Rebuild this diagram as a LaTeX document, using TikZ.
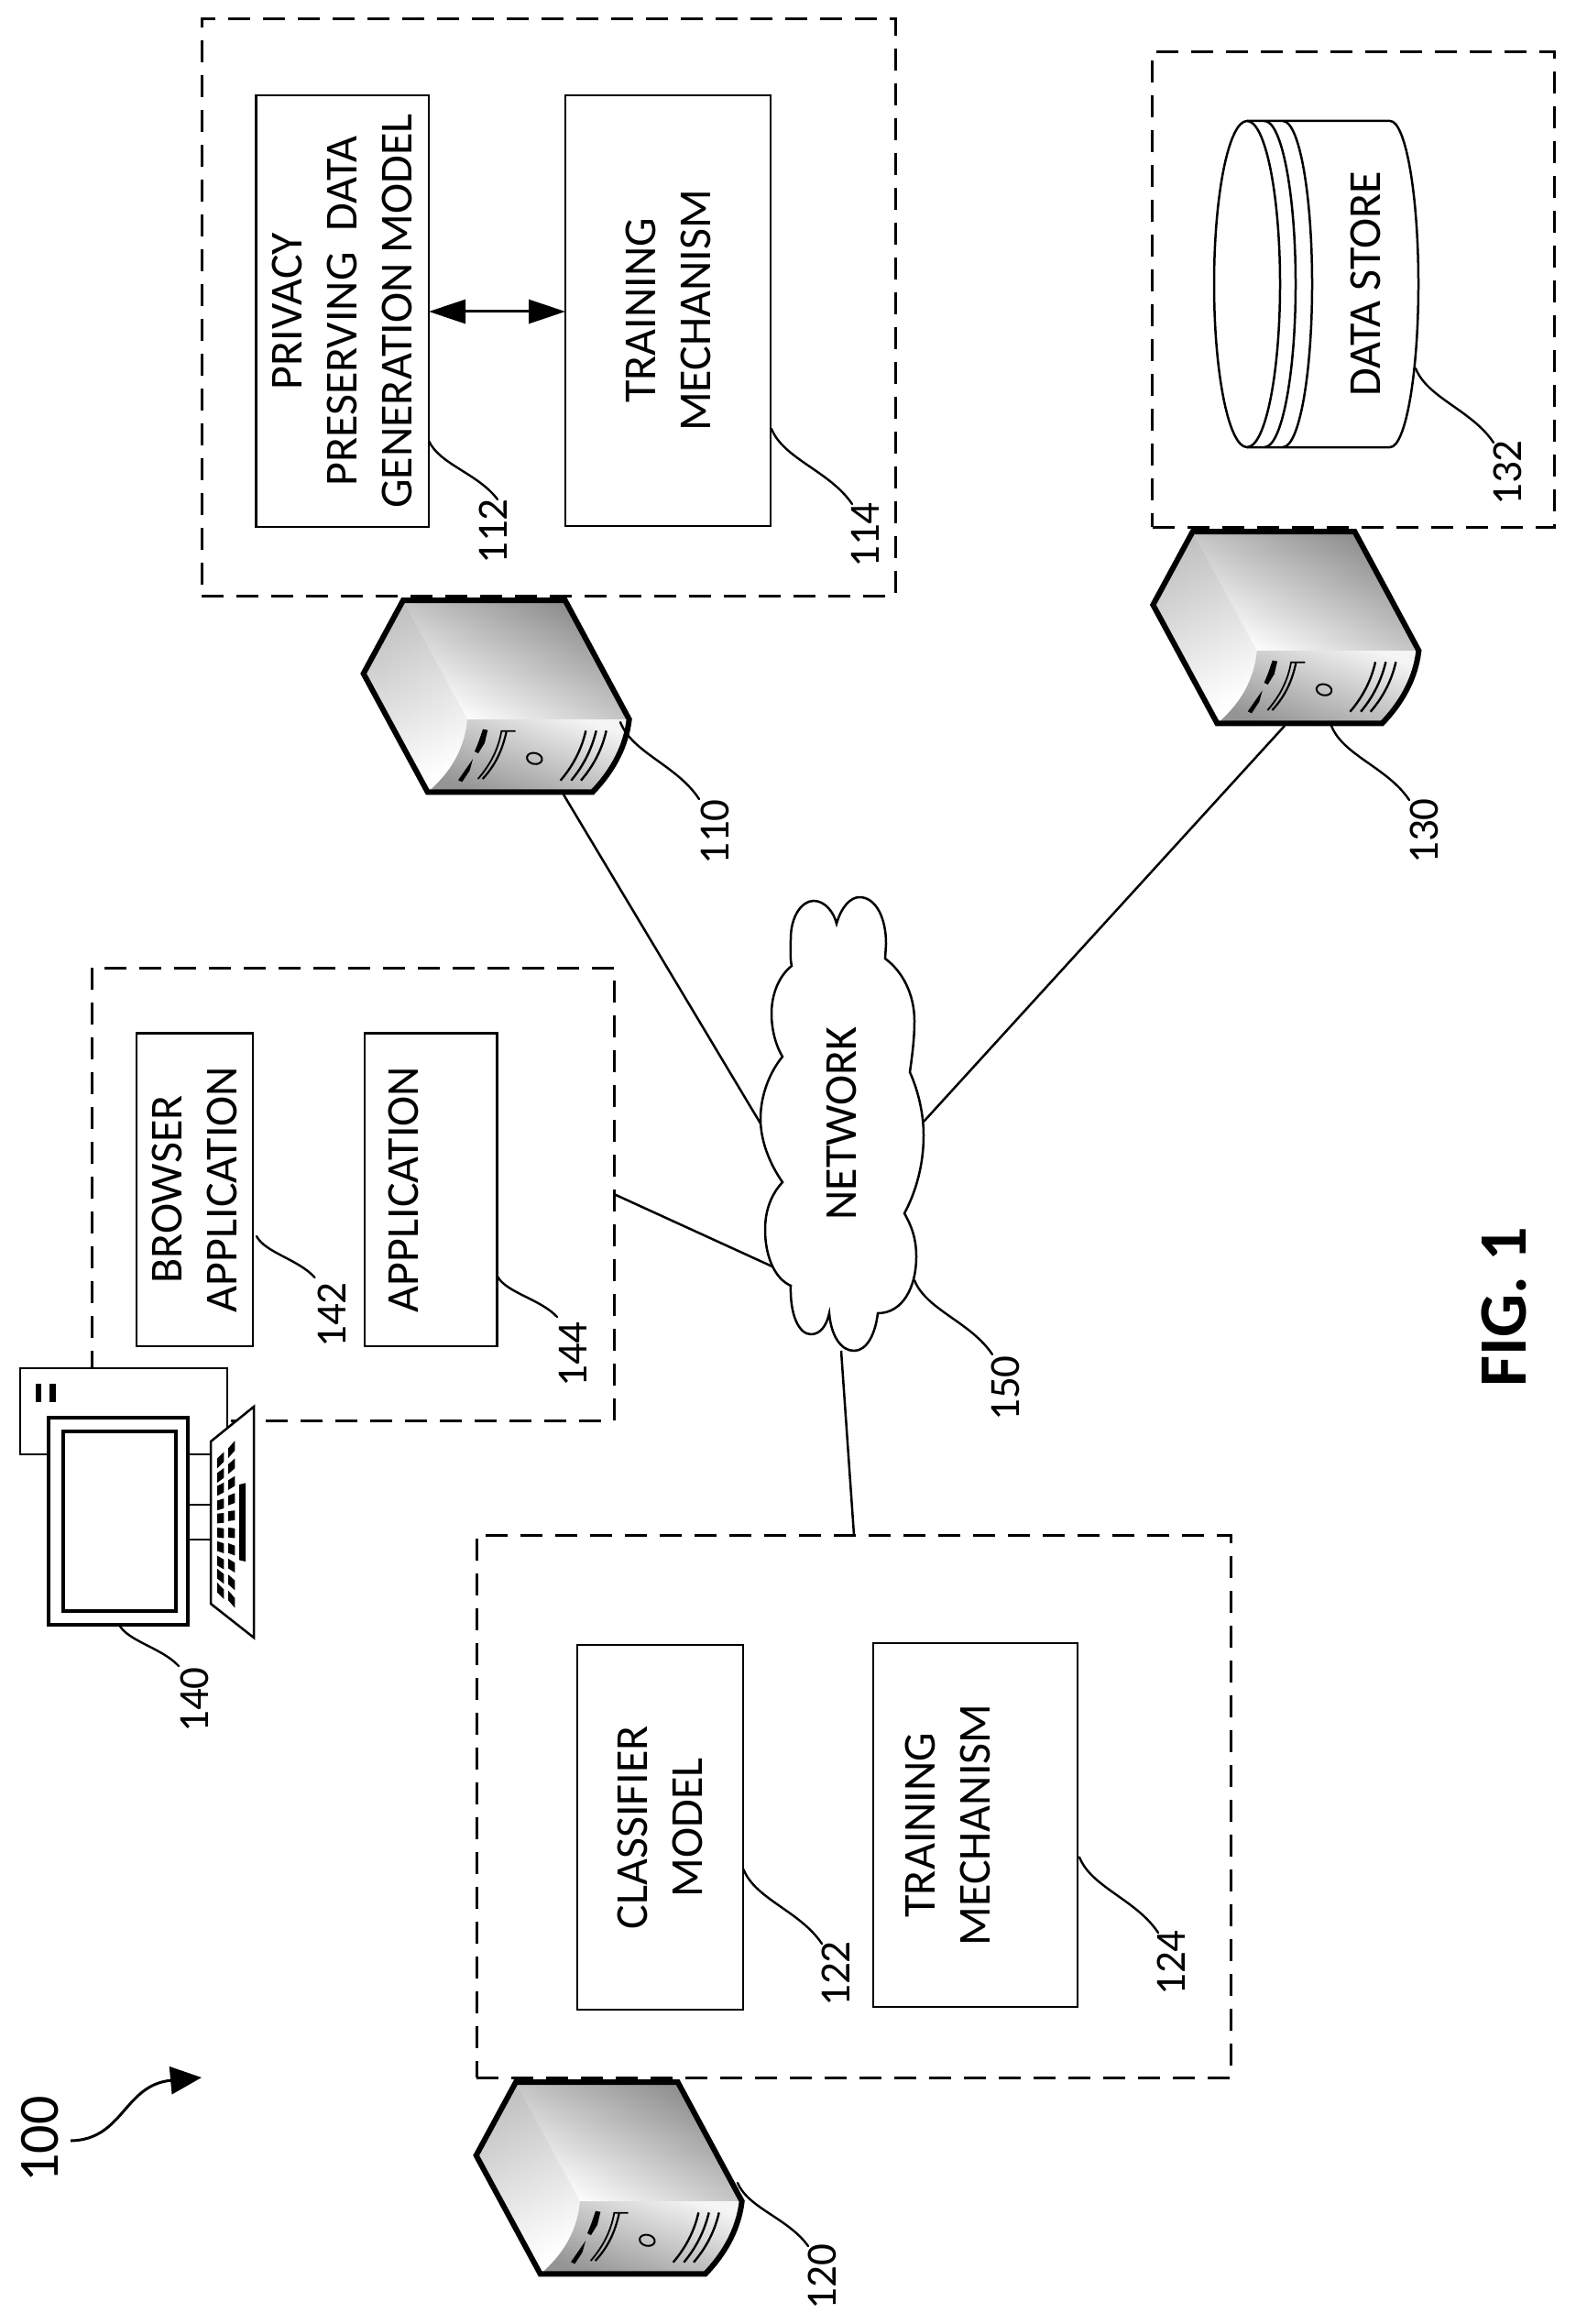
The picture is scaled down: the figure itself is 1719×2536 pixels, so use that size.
\documentclass[tikz,border=0pt]{standalone}
\usepackage{fontspec}
\setmainfont{Carlito}
\usetikzlibrary{arrows.meta,calc}
\tikzset{
  dashbox/.style={draw,line width=1.5pt,dash pattern=on 12pt off 7pt,inner sep=0pt,outer sep=0pt},
  plainbox/.style={draw,line width=1.25pt,fill=white,inner sep=0pt,outer sep=0pt,rotate=90,align=center,font=\fontsize{25}{30}\selectfont},
  reflabel/.style={rotate=90,inner sep=0pt,font=\fontsize{23.5}{27}\selectfont},
  boxtext/.style={rotate=90,inner sep=0pt,align=center,font=\fontsize{25}{30}\selectfont},
  leaderstyle/.style={line width=1.2pt,line cap=round},
  linkstyle/.style={line width=1.25pt},
  devline/.style={line width=1.4pt,fill=white,line join=miter},
}
\newcommand{\leaderline}[2]{\draw[leaderstyle] let \p1=(#1),\p2=(#2) in (#1) .. controls ({\x1+0.15*(\x2-\x1)},{\y1+0.40*(\y2-\y1)}) and ({\x1+0.72*(\x2-\x1)},{\y1+0.56*(\y2-\y1)}) .. (#2);}
\newcommand{\serverdraw}[2]{%
\begin{scope}[shift={(#1,#2)},x=0.16667pt,y=-0.16667pt]
  \fill[white] (180,105)--(710,105)--(920,495) .. controls (910,580) and (870,660) .. (800,733)--(260,733)--(50,345)--cycle;
  \shade[top color=black!46,bottom color=white,shading angle=-28] (180,105)--(710,105)--(920,495)--(390,495)--cycle;
  \shade[left color=black!24,right color=white,shading angle=28] (180,105)--(50,345)--(260,733)--(270,725) .. controls (330,670) and (380,600) .. (390,495)--cycle;
  \shade[left color=black!4,right color=black!42,shading angle=-20] (390,495)--(920,495) .. controls (910,580) and (870,660) .. (800,733)--(270,725) .. controls (330,670) and (380,600) .. (390,495)--cycle;
  \fill[black] (441,527)--(457,530)--(447,572)--(426,606)--(414,600)--(427,568)--cycle;
  \fill[black] (408,625)--(398,662)--(373,700)--(360,694)--(392,648)--cycle;
  \draw[line width=0.9pt] (548,533)--(502,533) .. controls (492,590) and (468,640) .. (425,690);
  \draw[line width=1.1pt] (518,535) .. controls (505,595) and (482,645) .. (440,690);
  \draw[line width=1pt,rotate around={-12:(610,623)}] (610,623) ellipse (25 and 18);
  \draw[line width=1.2pt] (778,532) .. controls (765,590) and (738,645) .. (695,695);
  \draw[line width=1.2pt] (812,532) .. controls (798,590) and (772,645) .. (730,695);
  \draw[line width=1.2pt] (845,532) .. controls (832,590) and (805,645) .. (762,695);
  \draw[line width=3pt,line join=miter] (180,105)--(710,105)--(920,495) .. controls (910,580) and (870,660) .. (800,733)--(260,733)--(50,345)--cycle;
\end{scope}}
\begin{document}
\begin{tikzpicture}[x=0.5pt,y=-0.5pt]
\useasboundingbox (0,0) rectangle (1719,2536);
% dashed groups
\node[dashbox,minimum width=378.5pt,minimum height=314.5pt] (group110) at (598.5,335.5) {};
\node[dashbox,minimum width=411.5pt,minimum height=296pt] (group120) at (931.5,1971) {};
\node[dashbox,minimum width=285pt,minimum height=247pt] (group140) at (385,1303) {};
\node[dashbox,minimum width=219.5pt,minimum height=259.25pt] (group130) at (1477,316) {};
% boxes
\node[plainbox,minimum width=235.5pt,minimum height=94.25pt] (privacy) at (373.75,339.5) {PRIVACY\\PRESERVING\ \ DATA\\GENERATION MODEL};
\node[plainbox,minimum width=235pt,minimum height=112pt] (trainA) at (729,339) {TRAINING\\MECHANISM};
\node[plainbox,minimum width=199pt,minimum height=90.5pt] (classifier) at (720.5,1994) {CLASSIFIER\\MODEL};
\node[plainbox,minimum width=198.5pt,minimum height=111.5pt] (trainB) at (1064.5,1991.5) {TRAINING\\MECHANISM\\\mbox{}};
\node[plainbox,minimum width=170.75pt,minimum height=63.5pt] (browser) at (212.5,1298) {BROWSER\\APPLICATION};
\node[plainbox,minimum width=170.75pt,minimum height=72.25pt] (application) at (470.25,1298) {APPLICATION\\\mbox{}};
\draw[line width=1.5pt,{Triangle[length=20pt,width=13pt]}-{Triangle[length=20pt,width=13pt]}] (privacy.south |- 0,340) -- (trainA.north |- 0,340);
% links
\coordinate (srvA) at (615,867);
\coordinate (netA) at (830,1226);
\coordinate (srvC) at (1402,792);
\coordinate (netC) at (1008,1224);
\coordinate (grpB) at (670,1303);
\coordinate (netB) at (845,1383);
\coordinate (grpD) at (932,1675);
\coordinate (netD) at (918,1474);
\draw[linkstyle] (srvA) -- (netA);
\draw[linkstyle] (srvC) -- (netC);
\draw[linkstyle] (grpB) -- (netB);
\draw[linkstyle] (grpD) -- (netD);
% cloud
\draw[line width=1.25pt,fill=white,line join=miter] (913,1008) .. controls (918,990) and (928,979) .. (938,979) .. controls (955,979) and (967,1000) .. (967,1030) -- (966,1046)
 .. controls (985,1060) and (998,1085) .. (998,1114) .. controls (998,1135) and (995,1155) .. (993,1170)
 .. controls (1002,1190) and (1008,1215) .. (1008,1239) .. controls (1008,1270) and (1000,1300) .. (987,1324)
 .. controls (995,1338) and (1000,1352) .. (1000,1371) .. controls (1000,1405) and (985,1433) .. (958,1433)
 .. controls (955,1458) and (945,1474) .. (932,1474) .. controls (918,1474) and (907,1458) .. (905,1433)
 .. controls (902,1447) and (895,1456) .. (885,1456) .. controls (872,1456) and (862,1435) .. (863,1403)
 .. controls (845,1395) and (835,1370) .. (835,1342) .. controls (835,1320) and (842,1303) .. (854,1290)
 .. controls (840,1270) and (830,1245) .. (830,1221) .. controls (830,1195) and (840,1170) .. (854,1153)
 .. controls (846,1140) and (842,1122) .. (842,1106) .. controls (842,1085) and (850,1065) .. (864,1054)
 .. controls (862,1045) and (863,1035) .. (863,1024) .. controls (863,1000) and (875,983) .. (888,983) .. controls (900,983) and (910,995) .. (913,1008) -- cycle;
\node[boxtext] (network) at (918,1226) {NETWORK};
% servers
\serverdraw{380}{620}
\serverdraw{1241.7}{545}
\serverdraw{503}{2237}
% data store
\draw[line width=1.25pt] (1361,132) -- (1517,132) .. controls (1534,132) and (1548,212) .. (1548,310) .. controls (1548,408) and (1534,488) .. (1517,488) -- (1361,488);
\draw[line width=1.25pt] (1361,310) ellipse (36 and 178);
\draw[line width=1.25pt] (1380,132) .. controls (1399,132) and (1414,212) .. (1414,310) .. controls (1414,408) and (1399,488) .. (1380,488);
\draw[line width=1.25pt] (1400,132) .. controls (1418,132) and (1432,212) .. (1432,310) .. controls (1432,408) and (1418,488) .. (1400,488);
\node[boxtext] (datastore) at (1490,310) {DATA STORE};
% computer
\draw[devline] (22,1493) rectangle (248,1587);
\fill (39,1510) rectangle (45,1530);
\fill (54,1510) rectangle (61,1530);
\draw[line width=1.25pt] (205,1587) -- (230,1587) (205,1642) -- (230,1642) (205,1680) -- (230,1680);
\draw[line width=1.6pt,fill=white] (53,1547) rectangle (205,1773);
\draw[line width=1.6pt,fill=white] (69,1562) rectangle (192,1758);
\draw[line width=1.25pt,fill=white,line join=miter] (230,1573) -- (277,1535) -- (277,1787) -- (230,1750) -- cycle;
\begin{scope}[shift={(0,1450)},x=0.16667pt,y=-0.16667pt]
 \foreach \ky in {430,480,525,575,620,668,715,765,810,858}{
   \pgfmathsetmacro{\sl}{(\ky-640)/216*11}
   \fill ({722-11},{\ky-16-\sl}) -- ({722+11},{\ky-16+\sl}) -- ({722+11},{\ky+16+\sl}) -- ({722-11},{\ky+16-\sl}) -- cycle;}
 \foreach \ky in {395,450,505,558,612,668,722,775,830,885}{
   \pgfmathsetmacro{\sl}{(\ky-640)/216*11}
   \fill ({758-11},{\ky-16-\sl}) -- ({758+11},{\ky-16+\sl}) -- ({758+11},{\ky+16+\sl}) -- ({758-11},{\ky+16-\sl}) -- cycle;}
 \fill (783,510) -- (804,505) -- (804,762) -- (783,757) -- cycle;
\end{scope}
% reference labels
\node[reflabel] (l112) at (538,580) {112};
\node[reflabel] (l114) at (944,584) {114};
\node[reflabel] (l110) at (780,908) {110};
\node[reflabel] (l130) at (1554,907) {130};
\node[reflabel] (l132) at (1645,516) {132};
\node[reflabel] (l122) at (912.5,2154) {122};
\node[reflabel] (l124) at (1278,2142) {124};
\node[reflabel] (l120) at (897.5,2484.5) {120};
\node[reflabel] (l142) at (362.5,1435) {142};
\node[reflabel] (l144) at (625.5,1478) {144};
\node[reflabel] (l150) at (1097.5,1515) {150};
\node[reflabel] (l140) at (212,1855) {140};
\node[rotate=90,inner sep=0pt,font=\fontsize{31}{36}\selectfont] (l100) at (44,2334.5) {100};
\node[rotate=90,inner sep=0pt,font=\fontsize{37}{44}\selectfont\bfseries] (fig) at (1641,1426) {FIG. 1};
% leaders
\coordinate (a112) at (468,481); \coordinate (b112) at (543,545); \leaderline{a112}{b112}
\coordinate (a114) at (842,468); \coordinate (b114) at (930,550); \leaderline{a114}{b114}
\coordinate (a110) at (677,788); \coordinate (b110) at (763,872); \leaderline{a110}{b110}
\coordinate (a130) at (1453,792); \coordinate (b130) at (1538,873); \leaderline{a130}{b130}
\coordinate (a132) at (1545,402); \coordinate (b132) at (1630,483); \leaderline{a132}{b132}
\coordinate (a122) at (811.5,2040); \coordinate (b122) at (897,2121); \leaderline{a122}{b122}
\coordinate (a124) at (1178,2026.5); \coordinate (b124) at (1264,2109); \leaderline{a124}{b124}
\coordinate (a120) at (805,2382); \coordinate (b120) at (882,2451); \leaderline{a120}{b120}
\coordinate (a142) at (280,1349); \coordinate (b142) at (343.5,1394); \leaderline{a142}{b142}
\coordinate (a144) at (543,1393); \coordinate (b144) at (608,1437); \leaderline{a144}{b144}
\coordinate (a150) at (998,1397); \coordinate (b150) at (1083,1478); \leaderline{a150}{b150}
\coordinate (a140) at (130,1773); \coordinate (b140) at (195,1818); \leaderline{a140}{b140}
\coordinate (a100) at (77,2336); \coordinate (b100) at (220,2267);
\draw[line width=1.5pt,-{Triangle[length=17pt,width=15pt]}] (a100) .. controls (135,2335) and (135,2275) .. (b100);
\end{tikzpicture}
\end{document}
